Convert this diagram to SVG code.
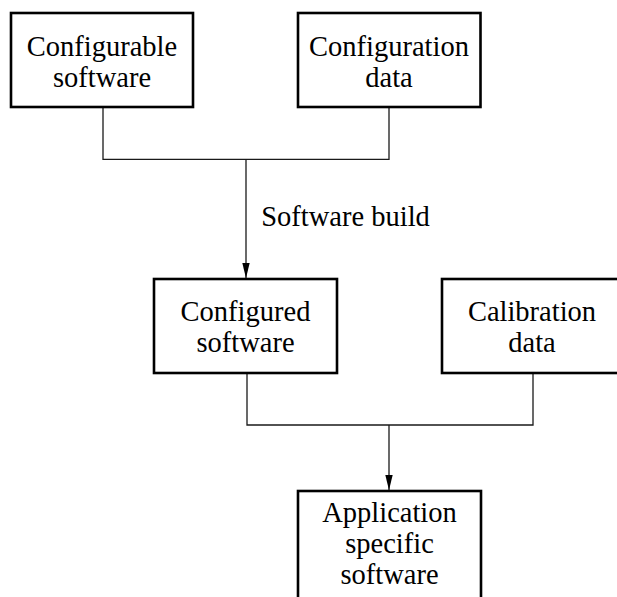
<svg xmlns="http://www.w3.org/2000/svg" width="617" height="597" viewBox="0 0 617 597">
<style>
.box{fill:#fff;stroke:#000;stroke-width:2.6}
.lbl{font-family:"Liberation Serif","Times New Roman",serif;font-size:28.5px;fill:#000;text-anchor:middle}
.conn{fill:none;stroke:#1a1a1a;stroke-width:1.3}
</style>
<defs>
<marker id="arr" markerUnits="userSpaceOnUse" markerWidth="15" markerHeight="8" refX="15" refY="3.7" orient="auto" viewBox="0 0 15 7.4">
<path d="M0,0 L15,3.7 L0,7.4 Z" fill="#000"/>
</marker>
</defs>
<rect width="617" height="597" fill="#fff"/>
<g id="connectors">
<path class="conn" d="M103,107 V159.3 H389 V107"/>
<path class="conn" d="M246,159.3 V278" marker-end="url(#arr)"/>
<path class="conn" d="M247,373 V425 H533 V373"/>
<path class="conn" d="M389,425 V490" marker-end="url(#arr)"/>
</g>
<g id="configurable-software">
<rect class="box" x="11" y="13" width="182" height="94"/>
<text class="lbl" x="102" y="56">Configurable</text>
<text class="lbl" x="102" y="86.5">software</text>
</g>
<g id="configuration-data">
<rect class="box" x="298" y="13" width="182.5" height="94"/>
<text class="lbl" x="389" y="56">Configuration</text>
<text class="lbl" x="389" y="86.5">data</text>
</g>
<g id="software-build-label">
<text class="lbl" x="345.5" y="226">Software build</text>
</g>
<g id="configured-software">
<rect class="box" x="154" y="279" width="183" height="94"/>
<text class="lbl" x="245.5" y="321">Configured</text>
<text class="lbl" x="245.5" y="352">software</text>
</g>
<g id="calibration-data">
<rect class="box" x="442" y="279" width="183" height="94"/>
<text class="lbl" x="532" y="321">Calibration</text>
<text class="lbl" x="532" y="352">data</text>
</g>
<g id="application-specific-software">
<rect class="box" x="298" y="491" width="183" height="120"/>
<text class="lbl" x="389.5" y="522">Application</text>
<text class="lbl" x="389.5" y="553">specific</text>
<text class="lbl" x="389.5" y="584">software</text>
</g>
</svg>
